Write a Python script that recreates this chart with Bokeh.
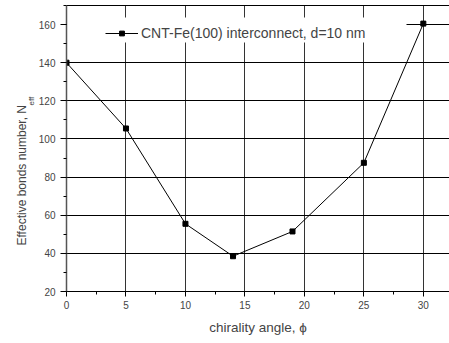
from bokeh.plotting import figure
from bokeh.models import (Range1d, LinearAxis, FixedTicker, SingleIntervalTicker,
                          Legend, LegendItem, BoxAnnotation, Title)
from bokeh.embed import file_html
from bokeh.resources import INLINE

# chirality angle (deg) vs effective bonds number
angle = [0, 5, 10, 14, 19, 25, 30]
n_eff = [140, 105.5, 55.5, 38.5, 51.5, 87.5, 160.5]
series_name = "CNT-Fe(100) interconnect, d=10 nm"
y_title = "Effective bonds number, N"
y_title_sub = "eff"

FONT = "Liberation Sans"

p = figure(width=449, height=343, output_backend="svg", toolbar_location=None,
           x_range=Range1d(0, 32.2), y_range=Range1d(20, 170),
           min_border_left=66, min_border_right=0, min_border_top=5,
           min_border_bottom=52, y_axis_location=None, x_axis_location=None)
p.outline_line_color = None
p.background_fill_color = "white"

# bottom axis
xa = LinearAxis(ticker=SingleIntervalTicker(interval=5, num_minor_ticks=2))
xa.axis_line_color = "black"
xa.major_tick_in = 0
xa.major_tick_out = 5
xa.minor_tick_in = 0
xa.minor_tick_out = 3
xa.major_label_standoff = 4
xa.major_label_text_font = FONT
xa.major_label_text_font_size = "10px"
xa.axis_label = "chirality angle, \u03d5"
xa.axis_label_text_font = FONT
xa.axis_label_text_font_size = "13.5px"
xa.axis_label_text_font_style = "normal"
xa.axis_label_standoff = 8
p.add_layout(xa, "below")

# left axis
ya = LinearAxis(ticker=SingleIntervalTicker(interval=20, num_minor_ticks=2))
ya.axis_line_color = "#555555"
ya.axis_line_width = 1.5
ya.major_tick_in = 0
ya.major_tick_out = 6
ya.minor_tick_in = 0
ya.minor_tick_out = 3
ya.major_label_standoff = 5
ya.major_label_text_font = FONT
ya.major_label_text_font_size = "10px"
p.add_layout(ya, "left")

# y title: subscript part sits next to the axis, main text outside it
p.add_layout(Title(text=y_title_sub, align="left", offset=186, standoff=0,
                   text_font=FONT, text_font_size="8px",
                   text_font_style="normal"), "left")
p.add_layout(Title(text=y_title, align="left", offset=46, standoff=-8,
                   text_font=FONT, text_font_size="12px",
                   text_font_style="normal"), "left")

# top frame line
ta = LinearAxis(ticker=FixedTicker(ticks=[]))
ta.axis_line_color = "black"
ta.major_tick_out = 0
ta.minor_tick_out = 0
ta.major_label_text_font_size = "0px"
ta.major_label_standoff = 0
p.add_layout(ta, "above")

p.xgrid.ticker = xa.ticker
p.ygrid.ticker = ya.ticker
p.xgrid.grid_line_color = "#333333"
p.ygrid.grid_line_color = "black"
p.xgrid.grid_line_width = 1
p.ygrid.grid_line_width = 1

# white backing behind the legend entry
p.add_layout(BoxAnnotation(left=0, right=340, bottom=249, top=274,
                           left_units="screen", right_units="screen",
                           bottom_units="screen", top_units="screen",
                           fill_color="white", fill_alpha=1, line_color=None,
                           level="underlay"))

ln = p.line(angle, n_eff, line_color="black", line_width=1)
sq = p.scatter(angle, n_eff, marker="square", size=5, fill_color="black",
               line_color="black")

legend = Legend(items=[LegendItem(label=series_name, renderers=[ln, sq])],
                location=(39, 248), margin=0, padding=0,
                glyph_width=33, glyph_height=12, label_standoff=3,
                label_height=20,
                background_fill_alpha=0, border_line_color=None,
                label_text_font=FONT, label_text_font_size="14px")
p.add_layout(legend, "center")

open("out.html", "w").write(file_html(p, INLINE))
